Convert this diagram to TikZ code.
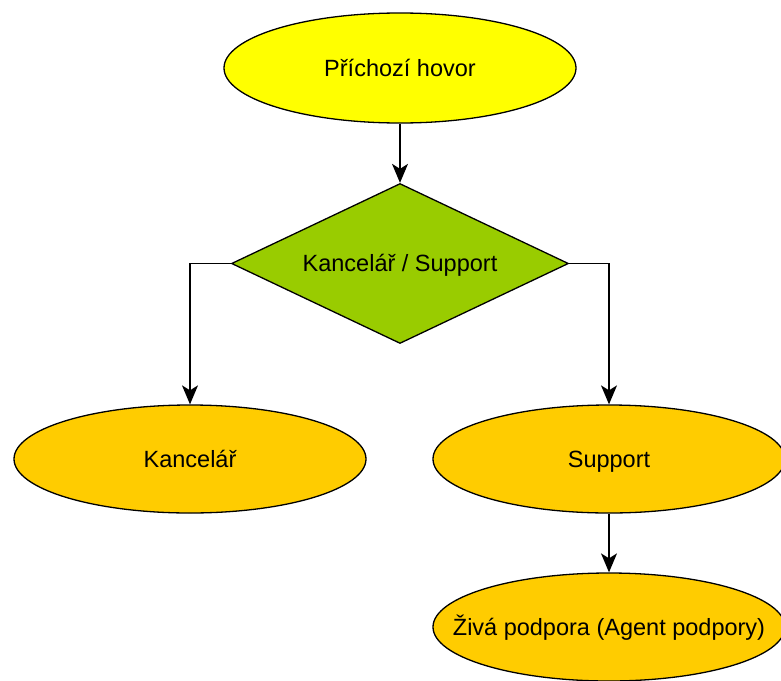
\documentclass[tikz,border=0pt]{standalone}
\usepackage{fontspec}
\setmainfont{Liberation Sans}
\usetikzlibrary{shapes.geometric,arrows.meta}
\definecolor{startyellow}{HTML}{FFFF00}
\definecolor{decgreen}{HTML}{99CC00}
\definecolor{endorange}{HTML}{FFCC00}
\begin{document}
\begin{tikzpicture}[x=1pt,y=-1pt,
  every node/.style={font=\fontsize{23.5}{27}\selectfont, text=black},
  caption/.style={text height=21pt, text depth=4.5pt, inner sep=0pt},
  oval/.style={ellipse, draw=black, line width=1.3pt, inner sep=0pt,
               minimum width=352pt, minimum height=108pt},
  decision/.style={diamond, draw=black, line width=1.3pt, fill=decgreen,
               inner sep=0pt, aspect=2.1, minimum width=337pt, minimum height=160pt},
  flow/.style={draw=black, line width=1.3pt,
               -{Stealth[length=19pt,width=16pt,inset=5pt]}}]
  \useasboundingbox (0,0) rectangle (781,680);

  % shapes
  \node[oval, fill=startyellow, minimum height=110pt] (start) at (400,68) {};
  \node[decision] (choice) at (400,263.5) {};
  \node[oval, fill=endorange] (office) at (190,459) {};
  \node[oval, fill=endorange] (support) at (609,459) {};
  \node[oval, fill=endorange] (agent) at (609,627) {};

  % captions
  \node[caption] (startcap) at (start) {Příchozí hovor};
  \node[caption] (choicecap) at (choice) {Kancelář / Support};
  \node[caption] (officecap) at (office) {Kancelář};
  \node[caption] (supportcap) at (support) {Support};
  \node[caption] (agentcap) at (agent) {Živá podpora (Agent podpory)};

  % connectors
  \draw[flow] (start.south) -- (choice.north);
  \draw[flow] (choice.west) -| (office.north);
  \draw[flow] (choice.east) -| (support.north);
  \draw[flow] (support.south) -- (agent.north);
\end{tikzpicture}
\end{document}
